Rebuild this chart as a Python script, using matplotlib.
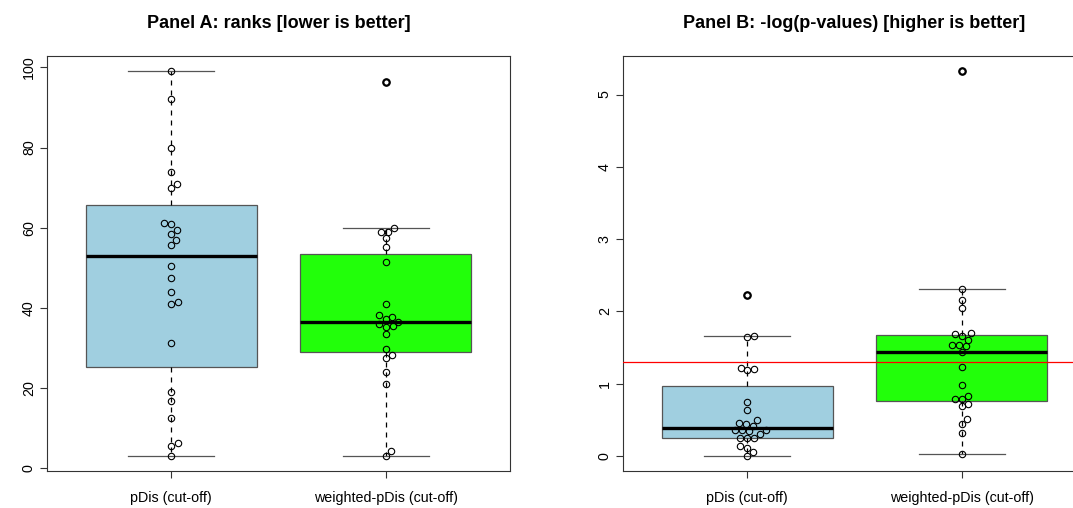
import matplotlib
matplotlib.use("Agg")
import matplotlib.pyplot as plt
import numpy as np

plt.rcParams['font.family'] = ['Liberation Sans', 'DejaVu Sans']

groups = ['pDis (cut-off)', 'weighted-pDis (cut-off)']
box_colors = ['#a0cfe0', '#22ff0a']

# Panel A: ranks of the known disease genes
ranks_pdis = [99, 92, 80, 74, 71, 70, 61.2, 61, 59.5, 58.5, 57, 55.6, 50.4, 47.4,
              44, 41.5, 41, 31.3, 18.9, 16.7, 12.4, 6.2, 5.6, 3]
ranks_weighted = [96.3, 60, 59, 59, 57.4, 55.1, 51.5, 40.9, 38.1, 37.8, 37.3, 36.5,
                  35.9, 35.4, 35.2, 33.4, 29.6, 28.2, 27.4, 24, 20.9, 4.2, 3]
ranks_ticks = [0, 20, 40, 60, 80, 100]

# Panel B: -log10 p-values
logp_pdis = [2.23, 1.66, 1.64, 1.22, 1.20, 1.19, 0.75, 0.63, 0.50, 0.46, 0.44, 0.42,
             0.36, 0.36, 0.36, 0.34, 0.31, 0.245, 0.245, 0.245, 0.14, 0.11, 0.06, 0.0]
logp_weighted = [5.32, 2.31, 2.16, 2.05, 1.70, 1.69, 1.66, 1.61, 1.54, 1.54, 1.52, 1.44,
                 1.23, 0.98, 0.83, 0.79, 0.79, 0.72, 0.69, 0.51, 0.44, 0.32, 0.03]
logp_ticks = [0, 1, 2, 3, 4, 5]
cutoff = -np.log10(0.05)


def fivenum(v):
    # Tukey hinges, same as R's boxplot.stats
    v = np.sort(np.asarray(v, float))
    n = len(v)
    n4 = np.floor((n + 3) / 2) / 2
    idx = np.array([1, n4, (n + 1) / 2, n + 1 - n4, n]) - 1
    return 0.5 * (v[np.floor(idx).astype(int)] + v[np.ceil(idx).astype(int)])


def box_stats(v, label):
    v = np.asarray(v, float)
    _, q1, med, q3, _ = fivenum(v)
    iqr = q3 - q1
    inside = v[(v >= q1 - 1.5 * iqr) & (v <= q3 + 1.5 * iqr)]
    return dict(label=label, q1=q1, med=med, q3=q3,
                whislo=inside.min(), whishi=inside.max(),
                fliers=v[(v < q1 - 1.5 * iqr) | (v > q3 + 1.5 * iqr)])


def swarm_offsets(ypix, d):
    # beeswarm "swarm" placement, lowest values first
    ypix = np.asarray(ypix, float)
    xs = np.zeros(len(ypix))
    placed = []
    for i in np.argsort(ypix, kind='stable'):
        cands = [0.0]
        for j in placed:
            dy = ypix[i] - ypix[j]
            if abs(dy) < d:
                dx = np.sqrt(d * d - dy * dy)
                cands += [xs[j] + dx, xs[j] - dx]
        cands.sort(key=lambda c: (abs(c), -c))
        for c in cands:
            if all((c - xs[j]) ** 2 + (ypix[i] - ypix[j]) ** 2 >= d * d - 1e-6 for j in placed):
                xs[i] = c
                break
        placed.append(i)
    return xs


def panel(ax, series, ticks, title):
    allv = np.concatenate([np.asarray(s, float) for s in series])
    lo, hi = allv.min(), allv.max()
    pad = 0.04 * (hi - lo)
    ax.set_xlim(0.42, 2.58)
    ax.set_ylim(lo - pad, hi + pad)

    stats = [box_stats(s, g) for s, g in zip(series, groups)]
    bp = ax.bxp(stats, positions=[1, 2], widths=0.8, patch_artist=True,
                boxprops=dict(edgecolor='#555555', linewidth=0.9),
                whiskerprops=dict(color='black', linestyle=(0, (4, 4)), linewidth=0.9),
                capprops=dict(color='#555555', linewidth=0.9),
                medianprops=dict(color='black', linewidth=2.4),
                flierprops=dict(marker='o', markerfacecolor='none', markeredgecolor='black',
                                markersize=4.6, markeredgewidth=1.6))
    for patch, c in zip(bp['boxes'], box_colors):
        patch.set_facecolor(c)

    # swarm the points in pixel space, then map the offsets back to data units
    px_per_x = ax.transData.transform((1, 0))[0] - ax.transData.transform((0, 0))[0]
    for pos, s in zip([1, 2], series):
        s = np.asarray(s, float)
        ypix = ax.transData.transform(np.column_stack([np.full(len(s), pos), s]))[:, 1]
        off = swarm_offsets(ypix, 7.0) / px_per_x
        ax.plot(pos + off, s, linestyle='none', marker='o', markerfacecolor='none',
                markeredgecolor='black', markersize=4.6, markeredgewidth=0.8, zorder=5)

    ax.set_xticks([1, 2])
    ax.set_xticklabels(groups, fontsize=10.3)
    ax.set_yticks(ticks)
    ax.set_yticklabels([str(t) for t in ticks], fontsize=10.3, rotation=90, va='center')
    ax.tick_params(axis='both', direction='out', length=5, width=0.8, color='#333333')
    ax.tick_params(axis='x', pad=9)
    ax.tick_params(axis='y', pad=3)
    for sp in ax.spines.values():
        sp.set_color('#333333')
        sp.set_linewidth(0.8)
    ax.set_title(title, fontsize=13, fontweight='bold', pad=20)


fig = plt.figure(figsize=(10.73, 5.08), dpi=100)
ax_a = fig.add_axes([47 / 1073, 36.6 / 508, 463 / 1073, 415.4 / 508])
ax_b = fig.add_axes([623 / 1073, 36.6 / 508, 463 / 1073, 415.4 / 508])

panel(ax_a, [ranks_pdis, ranks_weighted], ranks_ticks, 'Panel A: ranks [lower is better]')
panel(ax_b, [logp_pdis, logp_weighted], logp_ticks, 'Panel B: -log(p-values) [higher is better]')
ax_b.axhline(cutoff, color='red', linewidth=0.9, zorder=6)

fig.savefig('out.png', dpi=100)
